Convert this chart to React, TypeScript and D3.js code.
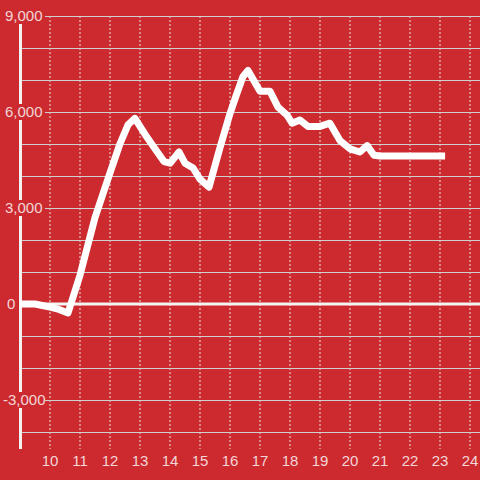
import React from "react";
import * as d3 from "d3";

const hours = [9.0, 9.5, 10.0, 10.3, 10.6, 11.0, 11.5, 12.0, 12.33, 12.6, 12.83, 13.17, 13.5, 13.8, 14.0, 14.3, 14.5, 14.77, 15.0, 15.3, 15.67, 16.0, 16.2, 16.43, 16.6, 17.0, 17.33, 17.6, 17.9, 18.07, 18.33, 18.6, 19.0, 19.33, 19.67, 20.0, 20.33, 20.57, 20.8, 21.0, 23.17];
const values = [0, 0, -100, -170, -280, 900, 2700, 4100, 5000, 5600, 5800, 5300, 4850, 4450, 4400, 4750, 4400, 4250, 3900, 3650, 4900, 5950, 6500, 7100, 7300, 6650, 6650, 6150, 5900, 5650, 5750, 5550, 5550, 5650, 5100, 4850, 4750, 4950, 4650, 4625, 4625];
const yTicks = [-3000, 0, 3000, 6000, 9000];
const yGrid = [-4000, -3000, -2000, -1000, 1000, 2000, 3000, 4000, 5000, 6000, 7000, 8000, 9000];
const xTicks = [10, 11, 12, 13, 14, 15, 16, 17, 18, 19, 20, 21, 22, 23, 24];

const W = 480, H = 480;
const BG = "#cc2a2f";

export default function App() {
  const x = d3.scaleLinear().domain([9, 9 + 460 / 30]).range([20, 480]);
  const y = d3.scaleLinear().domain([-4500, 9000]).range([448, 16]);
  const pts: [number, number][] = hours.map((h, i) => [h, values[i]]);
  const line = d3.line<[number, number]>().x(d => x(d[0])).y(d => y(d[1]));
  const fmt = (v: number) => d3.format(",")(v).replace("\u2212", "-");
  return (
    <svg width={W} height={H} style={{ position: "absolute", left: 0, top: 0, display: "block" }}>
      <rect x={0} y={0} width={W} height={H} fill={BG} />
      {xTicks.map(t => (
        <line key={"vx" + t} x1={x(t)} x2={x(t)} y1={16} y2={449} stroke="#e6e6e6" strokeWidth={1} strokeDasharray="2,2" />
      ))}
      {yGrid.map(t => (
        <line key={"hg" + t} x1={20} x2={W} y1={Math.round(y(t)) + 0.5} y2={Math.round(y(t)) + 0.5} stroke="#cfcfcf" strokeWidth={1} />
      ))}
      <line x1={20} x2={W} y1={y(0)} y2={y(0)} stroke="#f4f4f4" strokeWidth={3} />
      <line x1={20.5} x2={20.5} y1={16} y2={449} stroke="#f2f2f2" strokeWidth={3} />
      <path d={line(pts) || ""} fill="none" stroke="#ffffff" strokeWidth={7} strokeLinejoin="round" strokeLinecap="butt" />
      {yTicks.map(t => (
        <g key={"yt" + t}>
          <rect x={0} y={y(t) - 8} width={t === 0 ? 17 : 45} height={16} fill={BG} />
          <text x={t < 0 ? 3 : t === 0 ? 7 : 5} y={y(t)} dy="0.36em" fontFamily="Liberation Sans, Arial, sans-serif" fontSize={15} fill="#f3d6d7">
            {fmt(t)}
          </text>
        </g>
      ))}
      {xTicks.map(t => (
        <text key={"xt" + t} x={x(t)} y={461} dy="0.36em" textAnchor="middle" fontFamily="Liberation Sans, Arial, sans-serif" fontSize={15} fill="#f3d6d7">
          {t}
        </text>
      ))}
    </svg>
  );
}
